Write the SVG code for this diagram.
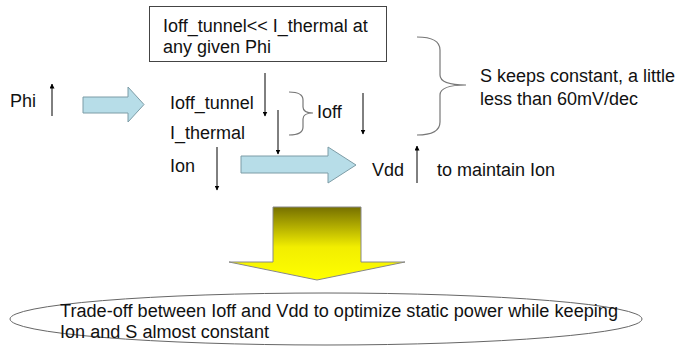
<svg xmlns="http://www.w3.org/2000/svg" width="691" height="347" viewBox="0 0 691 347">
<defs>
<marker id="ah" viewBox="0 0 10 10" refX="9" refY="5" markerWidth="5" markerHeight="5" orient="auto" markerUnits="userSpaceOnUse">
<path d="M0,0 L10,5 L0,10 z" fill="#000"/>
</marker>
<linearGradient id="yg" x1="0" y1="0" x2="0" y2="1">
<stop offset="0" stop-color="#767000"/>
<stop offset="0.55" stop-color="#f2ee00"/>
<stop offset="1" stop-color="#ffff00"/>
</linearGradient>
<style>
text{font-family:"Liberation Sans",Arial,sans-serif;font-size:18px;fill:#111}
.ar{stroke:#000;stroke-width:1;fill:none;marker-end:url(#ah)}
.blue{fill:#b7dde8;stroke:#7d9ca6;stroke-width:1}
.brace{fill:none;stroke:#777;stroke-width:1.2}
</style>
</defs>
<g id="condition">
<rect x="149.5" y="6.5" width="237" height="55" fill="#fff" stroke="#444" stroke-width="1"/>
<text x="163" y="32">Ioff_tunnel&lt;&lt; I_thermal at</text>
<text x="163" y="53">any given Phi</text>
</g>
<g id="phi">
<text x="10" y="107">Phi</text>
</g>
<g id="currents">
<text x="170" y="109">Ioff_tunnel</text>
<text x="170" y="139">I_thermal</text>
<text x="170" y="172">Ion</text>
</g>
<g id="ioff">
<text x="317" y="118">Ioff</text>
</g>
<g id="vdd">
<text x="372" y="176">Vdd</text>
</g>
<g id="maintain">
<text x="437" y="176">to maintain Ion</text>
</g>
<g id="s-const">
<text x="480" y="82">S keeps constant, a little</text>
<text x="480" y="105">less than 60mV/dec</text>
</g>
<g id="tradeoff">
<ellipse cx="326" cy="319" rx="316" ry="26" fill="#fff" stroke="#666" stroke-width="1"/>
<text x="60" y="317" textLength="558" lengthAdjust="spacingAndGlyphs">Trade-off between Ioff and Vdd to optimize static power while keeping</text>
<text x="60" y="338" textLength="209" lengthAdjust="spacingAndGlyphs">Ion and S almost constant</text>
</g>
<g id="connectors">
<line class="ar" x1="52" y1="116" x2="52" y2="84"/>
<path class="blue" d="M83,97 H128 V87 L144,104.5 L128,122 V113 H83 Z"/>
<line class="ar" x1="265" y1="73" x2="265" y2="116"/>
<line class="ar" x1="278" y1="110" x2="278" y2="154"/>
<line class="ar" x1="217" y1="147" x2="217" y2="190"/>
<line class="ar" x1="363" y1="93" x2="363" y2="134"/>
<path class="blue" d="M241,156 H328 V147 L356,165 L328,183 V173 H241 Z"/>
<line class="ar" x1="417" y1="183" x2="417" y2="146"/>
<path class="brace" d="M289,92 C298,92 303,94 303,100 V107 C303,111 306,113 313,113 C306,113 303,115 303,119 V127 C303,132 298,135 289,135"/>
<path class="brace" d="M417,37 C432,37 440,41 440,50 V75 C440,81 447,85 466,85 C447,85 440,89 440,95 V122 C440,131 432,135 417,135"/>
<path d="M273,207 H361 V262 H405 L317,280 L229,262 H273 Z" fill="url(#yg)" stroke="#888" stroke-width="1"/>
</g>
</svg>
